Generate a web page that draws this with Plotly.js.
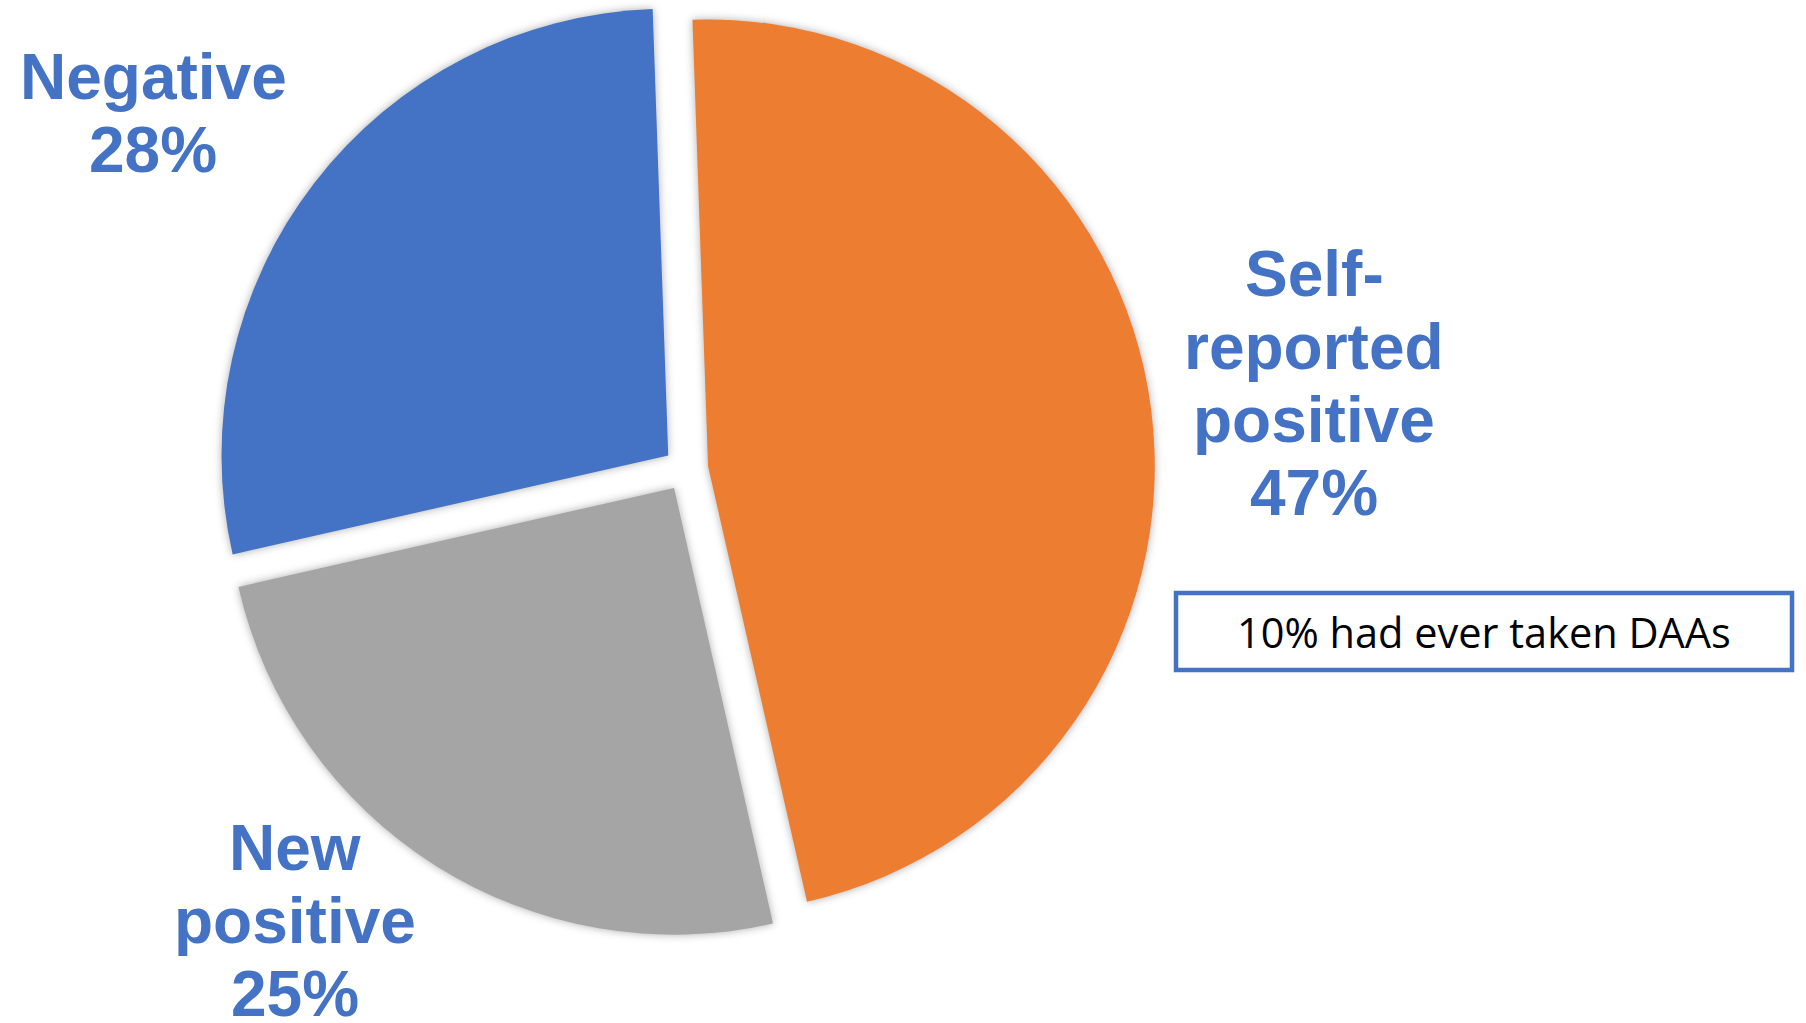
<!DOCTYPE html>
<html>
<head>
<meta charset="utf-8">
<script src="https://cdn.plot.ly/plotly-3.0.1.min.js"></script>
<style>
  html, body { margin: 0; padding: 0; background: #ffffff; overflow: hidden; }
  #chart { width: 1806px; height: 1023px; }
  .pielayer path.surface { filter: drop-shadow(0px 0px 4px rgba(0,0,0,0.32)); }
</style>
</head>
<body>
<div id="chart"></div>
<script>
// ---- data ----
const categories = ["Self-reported positive", "New positive", "Negative"];
const values = [47, 25, 28];
const labelLines = [["Self-", "reported", "positive"], ["New", "positive"], ["Negative"]];
const sliceColors = ["#ED7D31", "#A5A5A5", "#4472C4"];
const noteText = "10% had ever taken DAAs";

// ---- layout helpers (pixel positions of label blocks) ----
const W = 1806, H = 1023;
const labelPos = [
  { x: 1314, firstBaseline: 297 },
  { x: 295, firstBaseline: 871 },
  { x: 153, firstBaseline: 100 }
];
const linePitch = 73;
const labelFont = 64;

const annotations = [];
categories.forEach((c, i) => {
  const lines = labelLines[i].concat([values[i] + "%"]);
  lines.forEach((ln, j) => {
    const baseline = labelPos[i].firstBaseline + j * linePitch;
    const centerPx = baseline - 0.36 * labelFont;
    annotations.push({
      xref: "paper", yref: "paper",
      x: labelPos[i].x / W, y: 1 - centerPx / H,
      xanchor: "center", yanchor: "middle",
      text: "<b>" + ln + "</b>",
      showarrow: false,
      font: { family: "Liberation Sans, Arial, sans-serif", size: labelFont, color: "#4472C4" }
    });
  });
});

// note box
const box = { x0: 1176, x1: 1792, y0: 593, y1: 670 };
annotations.push({
  xref: "paper", yref: "paper",
  x: (box.x0 + box.x1) / 2 / W, y: 1 - ((box.y0 + box.y1) / 2) / H,
  xanchor: "center", yanchor: "middle",
  text: noteText, showarrow: false,
  font: { family: "Open Sans, Lato, sans-serif", size: 41.5, color: "#000000" }
});

const trace = {
  type: "pie",
  labels: categories,
  values: values,
  sort: false,
  direction: "clockwise",
  rotation: -2,
  pull: [0.05, 0.05, 0.05],
  marker: { colors: sliceColors, line: { width: 0 } },
  textinfo: "none",
  hoverinfo: "label+percent",
  showlegend: false,
  domain: { x: [0.1201, 0.6395], y: [0.083, 1.0] }
};

const layout = {
  width: W, height: H,
  margin: { l: 0, r: 0, t: 0, b: 0 },
  paper_bgcolor: "#ffffff",
  plot_bgcolor: "#ffffff",
  showlegend: false,
  annotations: annotations,
  shapes: [{
    type: "rect", xref: "paper", yref: "paper",
    x0: box.x0 / W, x1: box.x1 / W,
    y0: 1 - box.y1 / H, y1: 1 - box.y0 / H,
    line: { color: "#4472C4", width: 4.5 },
    fillcolor: "rgba(255,255,255,0)"
  }]
};

Plotly.newPlot("chart", [trace], layout, { displayModeBar: false, staticPlot: true });
</script>
</body>
</html>
